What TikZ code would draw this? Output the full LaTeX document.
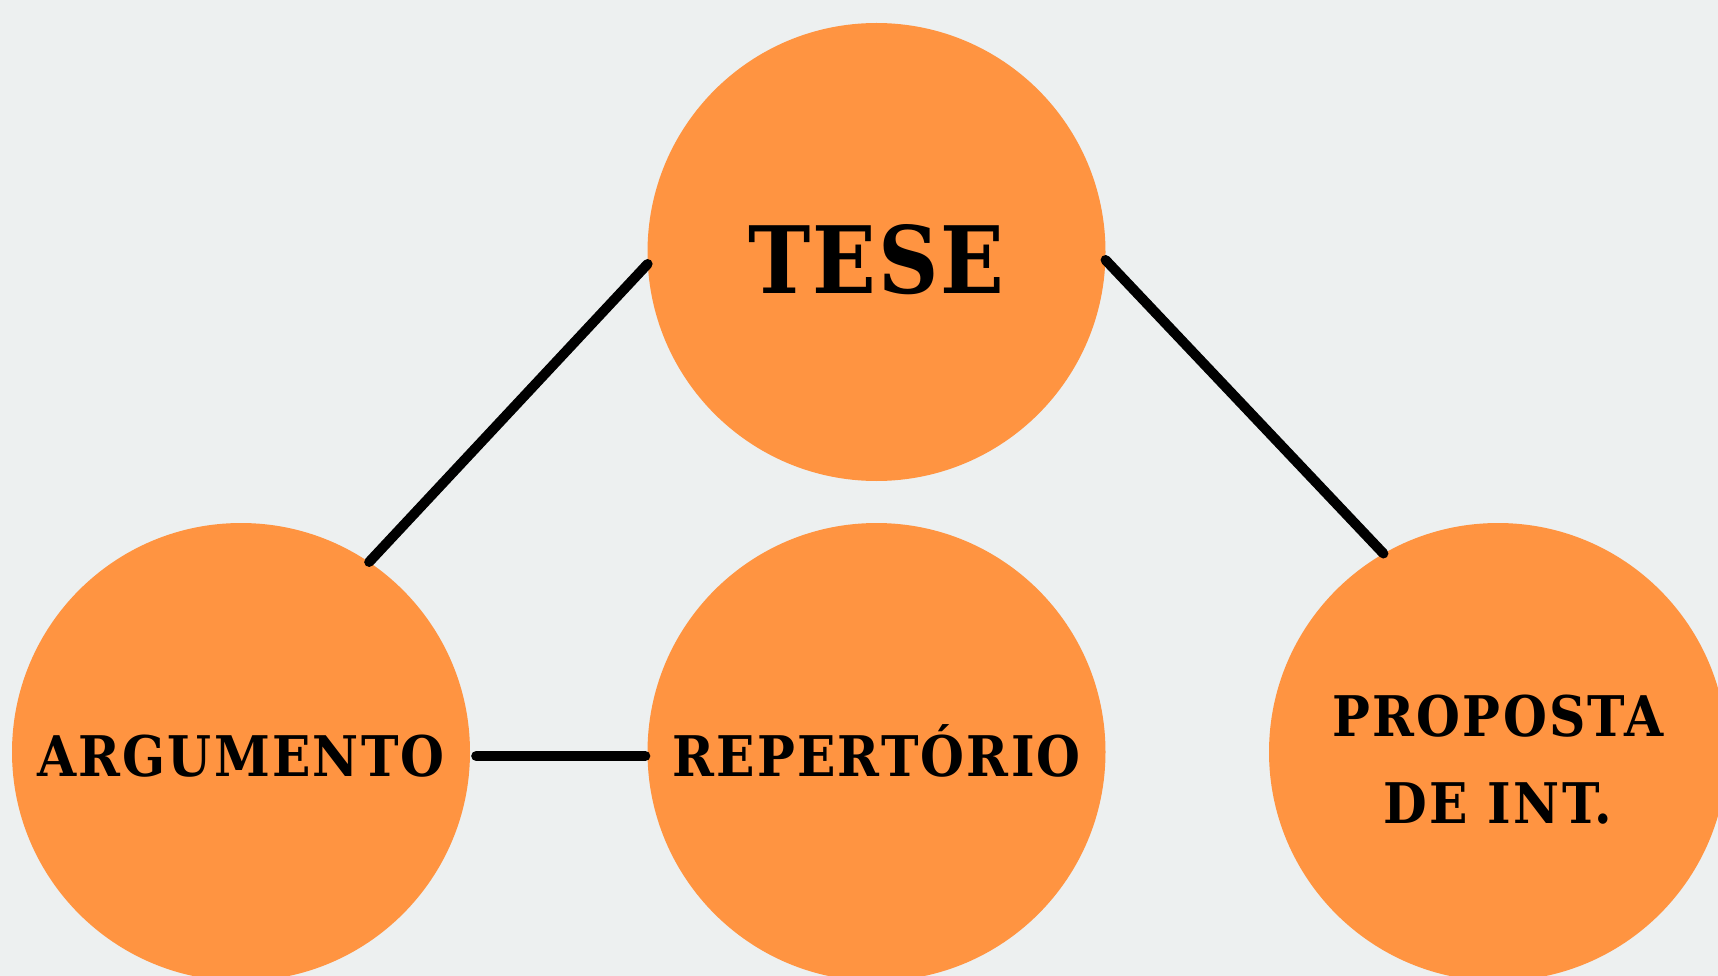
\documentclass[tikz,border=0pt]{standalone}
\usepackage{fontspec}
\usepackage{xcolor}
\IfFontExistsTF{DejaVu Serif Condensed Bold}
	{\newfontfamily\slabfont{DejaVu Serif Condensed Bold}[LetterSpace=4]}
	{\newfontfamily\slabfont{DejaVu Serif Bold}[LetterSpace=1]}
\definecolor{bgpaper}{HTML}{EDF0F0}
\definecolor{circleorange}{HTML}{FF9441}

\begin{document}
\begin{tikzpicture}[x=1pt,y=-1pt,
	topic/.style={circle,fill=circleorange,minimum size=458pt,inner sep=0pt,align=center,
		font=\slabfont\fontsize{56}{87}\selectfont},
	oneline/.style={text height=48pt,text depth=0pt},
	link/.style={line width=10pt,line cap=round}]
	\fill[bgpaper] (0,0) rectangle (1718,976);
	\useasboundingbox (0,0) rectangle (1718,976);
	\clip (0,0) rectangle (1718,976);
	
	\node[topic,text height=83pt,text depth=0pt,
		font=\slabfont\fontsize{93}{93}\selectfont\addfontfeature{LetterSpace=2}] (tese) at (876.5,252) {TESE};
	\node[topic,oneline] (arg) at (241,752) {ARGUMENTO};
	\node[topic,oneline] (rep) at (876.5,752) {REPERTÓRIO};
	\node[topic,text height=142pt,text depth=0pt] (prop) at (1498,752) {PROPOSTA\\DE INT.};
	
	\draw[link] (tese.183) -- (arg.56);
	\draw[link] (tese.-2) -- (prop.120);
	\draw[link,shorten <=6pt,shorten >=2pt] (arg.-1) -- (rep.181);
\end{tikzpicture}
\end{document}
